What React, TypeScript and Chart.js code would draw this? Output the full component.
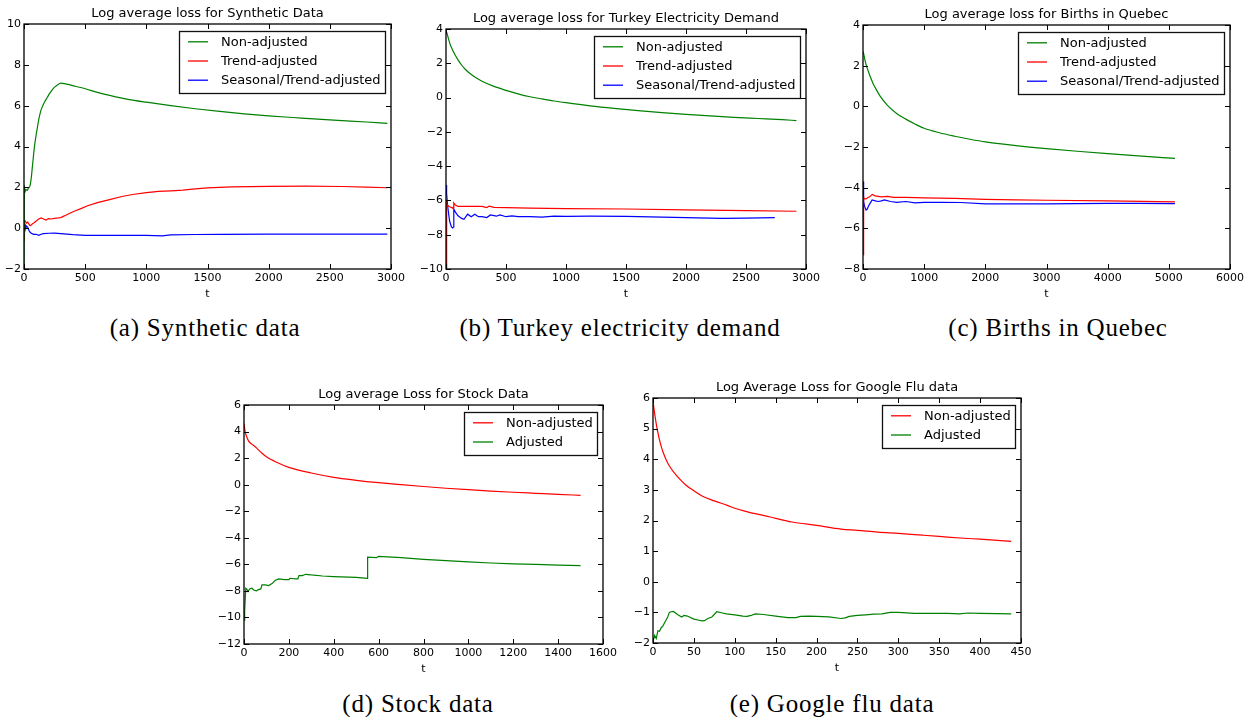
import React, { useEffect, useRef } from 'react';
import { Chart, registerables } from 'chart.js';

Chart.register(...registerables);

// ---------------- DATA ----------------
// (a) Synthetic data
const synthNonAdjT = [0, 3, 8, 15, 25, 35, 50, 60, 70, 80, 90, 100, 110, 120, 135, 150, 170, 190, 210, 240, 270, 300, 330, 370, 420, 500, 600, 700, 800, 900, 1000, 1200, 1400, 1600, 1800, 2000, 2200, 2400, 2600, 2800, 2970];
const synthNonAdj = [-2.5, 2.1, 1.75, 1.9, 1.85, 1.95, 2.1, 2.5, 3.1, 3.7, 4.2, 4.6, 4.95, 5.3, 5.7, 5.95, 6.2, 6.4, 6.6, 6.85, 7.0, 7.1, 7.08, 7.03, 6.95, 6.83, 6.65, 6.5, 6.37, 6.26, 6.17, 6.0, 5.85, 5.72, 5.6, 5.5, 5.42, 5.34, 5.27, 5.2, 5.13];
const synthTrendT = [0, 2, 5, 10, 20, 30, 40, 50, 60, 70, 80, 100, 120, 140, 160, 180, 200, 220, 250, 280, 300, 330, 370, 420, 470, 520, 600, 700, 800, 900, 1000, 1100, 1200, 1300, 1400, 1500, 1700, 2000, 2300, 2600, 2800, 2970];
const synthTrend = [-0.6, 0.4, 0.3, 0.35, 0.25, 0.3, 0.2, 0.12, 0.15, 0.22, 0.25, 0.35, 0.45, 0.5, 0.45, 0.4, 0.47, 0.45, 0.48, 0.5, 0.52, 0.6, 0.72, 0.85, 0.97, 1.1, 1.25, 1.4, 1.55, 1.66, 1.74, 1.8, 1.83, 1.86, 1.92, 1.97, 2.02, 2.05, 2.06, 2.04, 2.01, 1.98];
const synthSeasT = [0, 2, 5, 10, 15, 20, 30, 40, 50, 60, 70, 80, 100, 120, 140, 160, 200, 250, 300, 400, 500, 600, 800, 1000, 1130, 1200, 1400, 1600, 2000, 2400, 2800, 2970];
const synthSeas = [-0.4, 0.2, 0.05, 0.15, 0.0, 0.1, 0.05, -0.1, -0.2, -0.25, -0.28, -0.3, -0.3, -0.35, -0.3, -0.27, -0.25, -0.24, -0.27, -0.32, -0.35, -0.35, -0.35, -0.35, -0.38, -0.33, -0.31, -0.3, -0.29, -0.29, -0.29, -0.29];

// (b) Turkey electricity demand
const turkNonAdjT = [0, 10, 20, 35, 50, 75, 100, 130, 160, 200, 250, 300, 400, 500, 600, 700, 800, 900, 1000, 1200, 1400, 1600, 1800, 2000, 2200, 2400, 2600, 2800, 2920];
const turkNonAdj = [3.9, 3.7, 3.45, 3.1, 2.85, 2.5, 2.2, 1.9, 1.65, 1.4, 1.15, 0.95, 0.65, 0.42, 0.22, 0.05, -0.08, -0.2, -0.3, -0.48, -0.63, -0.76, -0.88, -0.98, -1.07, -1.15, -1.22, -1.29, -1.34];
const turkTrendT = [0, 3, 8, 15, 25, 40, 55, 60, 65, 75, 100, 150, 200, 300, 340, 360, 400, 500, 700, 1000, 1500, 2000, 2500, 2920];
const turkTrend = [-10.5, -6.0, -6.2, -6.3, -6.35, -6.4, -6.45, -6.4, -6.15, -6.25, -6.35, -6.35, -6.35, -6.35, -6.42, -6.33, -6.4, -6.42, -6.45, -6.48, -6.5, -6.55, -6.6, -6.63];
const turkSeasT = [0, 5, 15, 30, 45, 55, 62, 65, 80, 100, 130, 150, 180, 210, 240, 270, 300, 340, 370, 420, 450, 500, 550, 600, 700, 800, 900, 1000, 1200, 1500, 1800, 2000, 2300, 2500, 2740];
const turkSeas = [-5.1, -5.6, -6.4, -7.2, -7.55, -7.6, -7.55, -6.5, -6.7, -6.9, -7.05, -7.1, -6.8, -6.95, -6.8, -6.95, -6.95, -7.0, -6.85, -6.92, -6.85, -6.95, -6.9, -6.95, -6.95, -6.97, -6.92, -6.93, -6.92, -6.93, -6.97, -7.0, -7.05, -7.03, -7.0];

// (c) Births in Quebec
const birthNonAdjT = [0, 10, 30, 60, 90, 120, 160, 200, 280, 400, 550, 700, 850, 1000, 1250, 1500, 1750, 2000, 2500, 3000, 3500, 4000, 4500, 5100];
const birthNonAdj = [2.7, 2.6, 2.3, 1.95, 1.7, 1.45, 1.15, 0.92, 0.5, 0.05, -0.35, -0.63, -0.87, -1.08, -1.3, -1.47, -1.62, -1.75, -1.93, -2.08, -2.21, -2.33, -2.44, -2.56];
const birthTrendT = [0, 5, 15, 30, 50, 80, 110, 150, 200, 300, 400, 500, 700, 1000, 1500, 2000, 2500, 3000, 4000, 5100];
const birthTrend = [-7.3, -4.4, -4.5, -4.55, -4.55, -4.48, -4.45, -4.33, -4.4, -4.45, -4.43, -4.48, -4.48, -4.5, -4.53, -4.58, -4.6, -4.62, -4.65, -4.7];
const birthSeasT = [0, 5, 15, 30, 50, 70, 90, 120, 150, 200, 250, 300, 350, 450, 550, 700, 850, 1000, 1300, 1600, 2000, 2500, 3000, 3500, 4000, 4500, 5100];
const birthSeas = [-3.7, -4.3, -4.7, -4.95, -5.1, -5.05, -4.9, -4.75, -4.6, -4.65, -4.68, -4.65, -4.6, -4.68, -4.72, -4.68, -4.75, -4.72, -4.72, -4.73, -4.8, -4.8, -4.8, -4.78, -4.77, -4.77, -4.78];

// (d) Stock data
const stockNonAdjT = [0, 5, 10, 20, 35, 50, 75, 100, 150, 200, 300, 400, 500, 600, 700, 800, 900, 1000, 1100, 1200, 1300, 1400, 1500];
const stockNonAdj = [4.6, 4.0, 3.7, 3.3, 3.05, 2.85, 2.45, 2.1, 1.65, 1.3, 0.88, 0.55, 0.33, 0.15, 0.0, -0.14, -0.27, -0.38, -0.48, -0.57, -0.65, -0.73, -0.8];
const stockAdjT = [0, 3, 8, 12, 18, 25, 35, 45, 55, 65, 75, 80, 95, 110, 125, 140, 155, 180, 200, 205, 230, 240, 245, 260, 275, 300, 350, 400, 500, 549, 551, 590, 600, 700, 800, 900, 1000, 1100, 1200, 1300, 1400, 1500];
const stockAdj = [-10.2, -9.5, -7.8, -7.85, -8.05, -7.85, -7.8, -7.95, -8.0, -7.9, -7.85, -7.55, -7.55, -7.6, -7.45, -7.2, -7.1, -7.15, -7.15, -7.05, -7.1, -7.1, -6.85, -6.85, -6.75, -6.8, -6.88, -6.92, -6.98, -7.05, -5.45, -5.5, -5.4, -5.5, -5.62, -5.72, -5.82, -5.9, -5.96, -6.01, -6.06, -6.1];

// (e) Google flu data
const fluNonAdjT = [0, 2, 5, 10, 15, 20, 30, 40, 50, 60, 75, 90, 100, 110, 120, 135, 150, 170, 200, 230, 250, 275, 300, 330, 350, 380, 400, 438];
const fluNonAdj = [5.9, 5.5, 5.0, 4.42, 4.05, 3.78, 3.43, 3.16, 2.97, 2.8, 2.64, 2.5, 2.4, 2.32, 2.25, 2.17, 2.07, 1.95, 1.84, 1.72, 1.68, 1.62, 1.58, 1.52, 1.48, 1.42, 1.39, 1.32];
const fluAdjT = [0, 2, 4, 6, 8, 10, 12, 15, 18, 20, 22, 25, 30, 35, 38, 42, 50, 55, 60, 63, 67, 72, 78, 85, 90, 100, 110, 115, 120, 125, 135, 150, 165, 175, 180, 190, 200, 215, 230, 235, 240, 250, 260, 270, 280, 290, 300, 320, 340, 360, 375, 385, 400, 420, 438];
const fluAdj = [-1.95, -1.75, -1.85, -1.6, -1.62, -1.5, -1.45, -1.3, -1.15, -1.0, -0.98, -0.97, -1.07, -1.15, -1.1, -1.12, -1.22, -1.25, -1.28, -1.27, -1.2, -1.15, -0.98, -1.02, -1.05, -1.08, -1.12, -1.13, -1.1, -1.05, -1.07, -1.12, -1.17, -1.17, -1.13, -1.12, -1.13, -1.15, -1.2, -1.18, -1.13, -1.1, -1.08, -1.06, -1.05, -1.0, -1.0, -1.03, -1.03, -1.03, -1.05, -1.02, -1.03, -1.04, -1.05];

const titles = [
  'Log average loss for Synthetic Data',
  'Log average loss for Turkey Electricity Demand',
  'Log average loss for Births in Quebec',
  'Log average Loss for Stock Data',
  'Log Average Loss for Google Flu data',
];
const captions = [
  '(a) Synthetic data',
  '(b) Turkey electricity demand',
  '(c) Births in Quebec',
  '(d) Stock data',
  '(e) Google flu data',
];
const xRanges = [[0, 3000, 500], [0, 3000, 500], [0, 6000, 1000], [0, 1600, 200], [0, 450, 50]];
const yRanges = [[-2, 10, 2], [-10, 4, 2], [-8, 4, 2], [-12, 6, 2], [-2, 6, 1]];

const GREEN = '#008000';
const RED = '#ff0000';
const BLUE = '#0000ff';

type Series = { label: string; t: number[]; v: number[]; color: string; smooth: boolean };

const panelSeries: Series[][] = [
  [
    { label: 'Non-adjusted', t: synthNonAdjT, v: synthNonAdj, color: GREEN, smooth: true },
    { label: 'Trend-adjusted', t: synthTrendT, v: synthTrend, color: RED, smooth: false },
    { label: 'Seasonal/Trend-adjusted', t: synthSeasT, v: synthSeas, color: BLUE, smooth: false },
  ],
  [
    { label: 'Non-adjusted', t: turkNonAdjT, v: turkNonAdj, color: GREEN, smooth: true },
    { label: 'Trend-adjusted', t: turkTrendT, v: turkTrend, color: RED, smooth: false },
    { label: 'Seasonal/Trend-adjusted', t: turkSeasT, v: turkSeas, color: BLUE, smooth: false },
  ],
  [
    { label: 'Non-adjusted', t: birthNonAdjT, v: birthNonAdj, color: GREEN, smooth: true },
    { label: 'Trend-adjusted', t: birthTrendT, v: birthTrend, color: RED, smooth: false },
    { label: 'Seasonal/Trend-adjusted', t: birthSeasT, v: birthSeas, color: BLUE, smooth: false },
  ],
  [
    { label: 'Non-adjusted', t: stockNonAdjT, v: stockNonAdj, color: RED, smooth: true },
    { label: 'Adjusted', t: stockAdjT, v: stockAdj, color: GREEN, smooth: false },
  ],
  [
    { label: 'Non-adjusted', t: fluNonAdjT, v: fluNonAdj, color: RED, smooth: true },
    { label: 'Adjusted', t: fluAdjT, v: fluAdj, color: GREEN, smooth: false },
  ],
];

// ---------------- LAYOUT (plot areas in page pixels) ----------------
const plotBoxes = [
  { l: 24, t: 24, r: 391, b: 269 },
  { l: 446, t: 29, r: 806, b: 269 },
  { l: 863, t: 25, r: 1230, b: 269 },
  { l: 244, t: 405, r: 603, b: 644 },
  { l: 653, t: 398, r: 1021, b: 643 },
];
const captionPos = [
  { x: 205, y: 328 },
  { x: 620, y: 328 },
  { x: 1058, y: 328 },
  { x: 418, y: 704 },
  { x: 832, y: 704 },
];

const Y_AXIS_W = 30;
const TITLE_H = 26;
const X_AXIS_H = 36;
const PAD_R = 24;

const fmt = (v: number | string) => String(v).replace('-', '\u2212');

function toPoints(t: number[], v: number[]) {
  const n = Math.min(t.length, v.length);
  const out: { x: number; y: number }[] = [];
  for (let i = 0; i < n; i++) out.push({ x: t[i], y: v[i] });
  return out;
}

const mplPlugin = {
  id: 'mplFrame',
  afterDraw(chart: any) {
    const { ctx, chartArea: ca, scales } = chart;
    const xs = scales.x;
    const ys = scales.y;
    ctx.save();
    // inward ticks on all four sides
    ctx.strokeStyle = '#000';
    ctx.lineWidth = 1;
    ctx.beginPath();
    xs.ticks.forEach((tk: any) => {
      const px = Math.round(xs.getPixelForValue(tk.value)) + 0.5;
      ctx.moveTo(px, ca.bottom);
      ctx.lineTo(px, ca.bottom - 5);
      ctx.moveTo(px, ca.top);
      ctx.lineTo(px, ca.top + 5);
    });
    ys.ticks.forEach((tk: any) => {
      const py = Math.round(ys.getPixelForValue(tk.value)) + 0.5;
      ctx.moveTo(ca.left, py);
      ctx.lineTo(ca.left + 5, py);
      ctx.moveTo(ca.right, py);
      ctx.lineTo(ca.right - 5, py);
    });
    ctx.stroke();
    // frame
    ctx.lineWidth = 1.3;
    ctx.strokeRect(Math.round(ca.left), Math.round(ca.top), Math.round(ca.right - ca.left), Math.round(ca.bottom - ca.top));

    // legend box
    const ds = chart.data.datasets;
    ctx.font = '13px "DejaVu Sans"';
    let maxW = 0;
    ds.forEach((d: any) => { maxW = Math.max(maxW, ctx.measureText(d.label).width); });
    const rowH = 19.2;
    const bw = Math.round(42 + maxW + 4);
    const bh = Math.round(rowH * ds.length + 4.5);
    const bx = Math.round(ca.right - 6 - bw);
    const by = Math.round(ca.top + 7);
    ctx.fillStyle = '#fff';
    ctx.fillRect(bx, by, bw, bh);
    ctx.strokeStyle = '#111';
    ctx.lineWidth = 1.3;
    ctx.strokeRect(bx + 0.5, by + 0.5, bw, bh);
    ds.forEach((d: any, i: number) => {
      const cy = by + 10.8 + i * rowH;
      ctx.strokeStyle = d.borderColor;
      ctx.lineWidth = 1.3;
      ctx.beginPath();
      ctx.moveTo(bx + 9, cy);
      ctx.lineTo(bx + 29, cy);
      ctx.stroke();
      ctx.fillStyle = '#000';
      ctx.textBaseline = 'middle';
      ctx.textAlign = 'left';
      ctx.fillText(d.label, bx + 42, cy + 0.5);
    });
    ctx.restore();
  },
};

function Panel({ idx }: { idx: number }) {
  const ref = useRef<HTMLCanvasElement | null>(null);
  const box = plotBoxes[idx];
  const cw = box.r - box.l + Y_AXIS_W + PAD_R;
  const chh = box.b - box.t + TITLE_H + X_AXIS_H;

  useEffect(() => {
    if (!ref.current) return;
    const [xmin, xmax, xstep] = xRanges[idx];
    const [ymin, ymax, ystep] = yRanges[idx];
    const chart = new Chart(ref.current, {
      type: 'line',
      data: {
        datasets: panelSeries[idx].map((s) => ({
          label: s.label,
          data: toPoints(s.t, s.v),
          borderColor: s.color,
          backgroundColor: s.color,
          borderWidth: 1.2,
          pointRadius: 0,
          tension: 0,
          cubicInterpolationMode: s.smooth ? 'monotone' : 'default',
          fill: false,
        })),
      },
      options: {
        animation: false,
        responsive: false,
        devicePixelRatio: 1,
        parsing: false as any,
        layout: { padding: { left: 0, right: PAD_R, top: 0, bottom: 0 } },
        plugins: {
          legend: { display: false },
          tooltip: { enabled: false },
          title: {
            display: true,
            text: titles[idx],
            color: '#000',
            fullSize: false,
            font: { family: 'DejaVu Sans', size: 13, weight: 'normal', lineHeight: '16px' },
            padding: { top: 8, bottom: 2 },
          },
        },
        scales: {
          x: {
            type: 'linear',
            min: xmin,
            max: xmax,
            grid: { display: false, drawTicks: false },
            border: { display: false },
            ticks: {
              stepSize: xstep,
              autoSkip: false,
              maxRotation: 0,
              padding: 3,
              color: '#000',
              font: { family: 'DejaVu Sans', size: 11 },
              callback: (v: any) => fmt(v),
            },
            title: {
              display: true,
              text: 't',
              color: '#000',
              font: { family: 'DejaVu Sans', size: 11 },
              padding: { top: 0, bottom: 4 },
            },
            afterFit: (s: any) => { s.height = X_AXIS_H; },
          },
          y: {
            type: 'linear',
            min: ymin,
            max: ymax,
            grid: { display: false, drawTicks: false },
            border: { display: false },
            ticks: {
              stepSize: ystep,
              autoSkip: false,
              padding: 3,
              color: '#000',
              font: { family: 'DejaVu Sans', size: 11 },
              callback: (v: any) => fmt(v),
            },
            afterFit: (s: any) => { s.width = Y_AXIS_W; },
          },
        },
      },
      plugins: [mplPlugin],
    } as any);
    return () => chart.destroy();
  }, [idx]);

  return (
    <canvas
      ref={ref}
      width={cw}
      height={chh}
      style={{
        position: 'absolute',
        left: box.l - Y_AXIS_W,
        top: box.t - TITLE_H,
        width: cw,
        height: chh,
      }}
    />
  );
}

export default function App() {
  return (
    <div style={{ position: 'absolute', left: 0, top: 0, width: 1244, height: 717, background: '#fff', overflow: 'hidden' }}>
      {plotBoxes.map((_, i) => (
        <Panel key={i} idx={i} />
      ))}
      {captions.map((c, i) => (
        <div
          key={'c' + i}
          style={{
            position: 'absolute',
            left: captionPos[i].x - 300,
            top: captionPos[i].y - 15,
            width: 600,
            height: 30,
            lineHeight: '30px',
            textAlign: 'center',
            fontFamily: '"Liberation Serif", serif',
            fontSize: 25,
            letterSpacing: '0.8px',
            color: '#000',
            whiteSpace: 'nowrap',
          }}
        >
          {c}
        </div>
      ))}
    </div>
  );
}
